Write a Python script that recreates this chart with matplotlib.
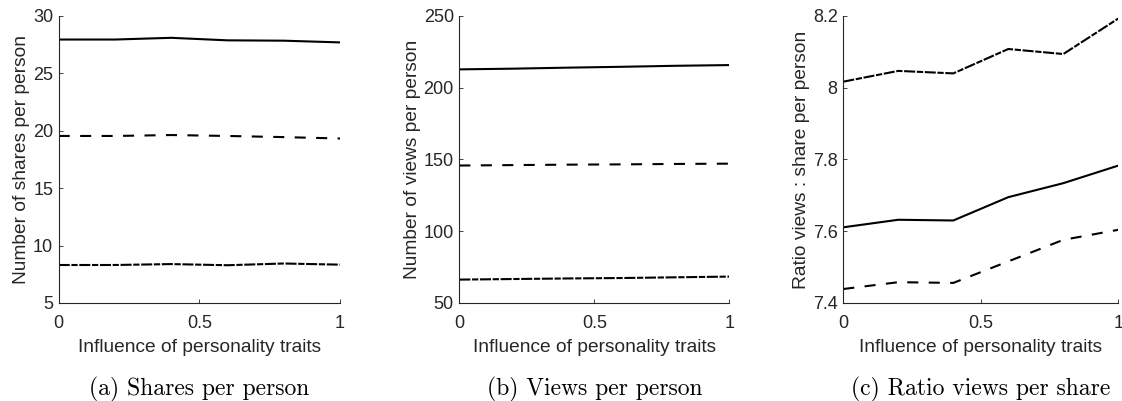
import matplotlib
matplotlib.use("Agg")
import matplotlib.pyplot as plt

# influence of personality traits
influence = [0, 0.2, 0.4, 0.6, 0.8, 1.0]

# shares per person
shares_solid = [27.95, 27.95, 28.1, 27.88, 27.85, 27.7]
shares_dashed = [19.55, 19.55, 19.63, 19.55, 19.45, 19.33]
shares_dashdot = [8.31, 8.31, 8.39, 8.29, 8.44, 8.34]

# views per person
views_solid = [212.8, 213.3, 214.0, 214.6, 215.3, 215.8]
views_dashed = [145.8, 146.1, 146.4, 146.6, 146.9, 147.1]
views_dashdot = [66.3, 66.7, 67.1, 67.4, 67.9, 68.4]

# ratio views : shares
ratio_solid = [7.611, 7.632, 7.630, 7.695, 7.734, 7.783]
ratio_dashed = [7.439, 7.458, 7.456, 7.516, 7.576, 7.604]
ratio_dashdot = [8.017, 8.047, 8.040, 8.108, 8.094, 8.193]

ylabels = ["Number of shares per person", "Number of views per person",
           "Ratio views : share per person"]
captions = ["(a) Shares per person", "(b) Views per person",
            "(c) Ratio views per share"]
ylims = [(5, 30), (50, 250), (7.4, 8.2)]
yticks = [[5, 10, 15, 20, 25, 30], [50, 100, 150, 200, 250],
          [7.4, 7.6, 7.8, 8.0, 8.2]]
ytick_labels = [None, None, ["7.4", "7.6", "7.8", "8", "8.2"]]

series = [
    (shares_solid, shares_dashed, shares_dashdot),
    (views_solid, views_dashed, views_dashdot),
    (ratio_solid, ratio_dashed, ratio_dashdot),
]

plt.rcParams["font.family"] = ["Liberation Sans", "DejaVu Sans"]
grey = "#262626"

fig = plt.figure(figsize=(11.22, 4.01), dpi=100)
boxes = [(0.0523, 0.2444, 0.2507, 0.7157),
         (0.4094, 0.2444, 0.2406, 0.7157),
         (0.7516, 0.2444, 0.2451, 0.7157)]

lw = 1.5
for i, box in enumerate(boxes):
    ax = fig.add_axes(box)
    solid, dashed, dashdot = series[i]
    ax.plot(influence, solid, color="black", lw=lw, linestyle="-")
    ax.plot(influence, dashed, color="black", lw=lw, dashes=(5.3, 5.0))
    ax.plot(influence, dashdot, color="black", lw=lw,
            dashes=(5.3, 0.8, 3.0, 0.8))
    ax.set_xlim(0, 1)
    ax.set_ylim(*ylims[i])
    ax.set_xticks([0, 0.5, 1])
    ax.set_xticklabels(["0", "0.5", "1"])
    ax.set_yticks(yticks[i])
    if ytick_labels[i] is not None:
        ax.set_yticklabels(ytick_labels[i])
    for side in ("top", "right"):
        ax.spines[side].set_visible(False)
    for side in ("left", "bottom"):
        ax.spines[side].set_color(grey)
        ax.spines[side].set_linewidth(0.8)
    ax.tick_params(direction="in", length=3, width=0.6, colors=grey,
                   labelsize=13)
    ax.tick_params(axis="x", pad=9)
    ax.tick_params(axis="y", pad=4)
    ax.set_xlabel("Influence of personality traits", fontsize=13.8,
                  color=grey, labelpad=5)
    ax.set_ylabel(ylabels[i], fontsize=13.8, color=grey, labelpad=2)
    ax.text(0.5, -0.30, captions[i], transform=ax.transAxes,
            ha="center", va="center", fontsize=17, family="cmr10",
            color="black")

fig.savefig("out.png", dpi=100)
